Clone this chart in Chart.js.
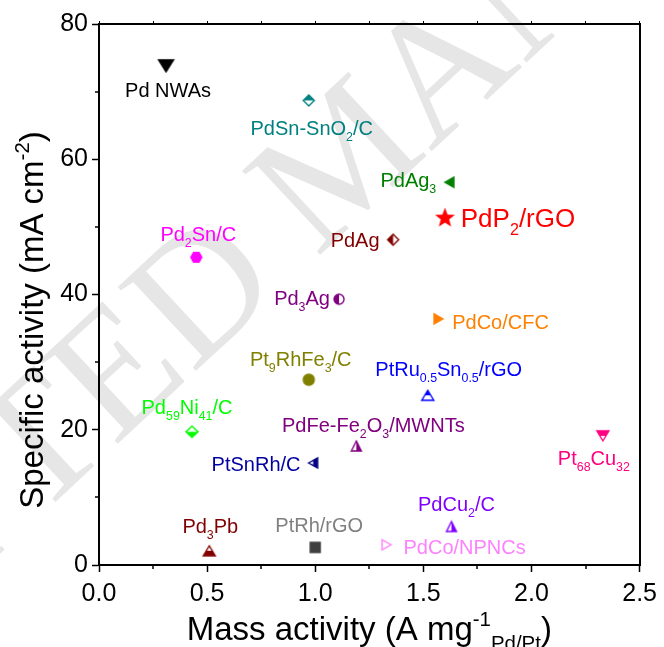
<!DOCTYPE html>
<html>
<head>
	<meta charset="UTF-8">
	<title>Specific activity vs. mass activity</title>
	<style>
		body { margin: 0; background: #fff; }
		canvas { display: block; }
	</style>
	<script src="https://cdn.jsdelivr.net/npm/chart.js@4.4.0/dist/chart.umd.min.js"></script>
</head>
<body>
	<canvas id="canvas" width="664" height="647"></canvas>
	<script>
		// data
		var catalysts = [
			'Pd NWAs', 'PdSn-SnO_{2}/C', 'PdAg_{3}', 'PdP_{2}/rGO', 'PdAg', 'Pd_{2}Sn/C',
			'Pd_{3}Ag', 'PdCo/CFC', 'Pt_{9}RhFe_{3}/C', 'PtRu_{0.5}Sn_{0.5}/rGO', 'Pd_{59}Ni_{41}/C',
			'PdFe-Fe_{2}O_{3}/MWNTs', 'PtSnRh/C', 'Pt_{68}Cu_{32}', 'Pd_{3}Pb', 'PtRh/rGO',
			'PdCu_{2}/C', 'PdCo/NPNCs'
		];
		var massActivity = [0.31, 0.97, 1.62, 1.60, 1.36, 0.45, 1.11, 1.57, 0.97, 1.52, 0.43, 1.19, 0.99, 2.33, 0.51, 1.00, 1.63, 1.33];
		var specificActivity = [73.8, 68.7, 56.6, 51.3, 48.1, 45.5, 39.3, 36.4, 27.4, 25.1, 19.7, 17.6, 15.1, 19.1, 2.1, 2.6, 5.7, 3.0];
		var xTicks = [0, 0.5, 1.0, 1.5, 2.0, 2.5];
		var yTicks = [0, 20, 40, 60, 80];

		// styles
		var markerShapes = ['triDown', 'diamond', 'triLeft', 'star', 'diamond', 'hexagon', 'circle', 'triRight', 'circle',
			'triUp', 'diamond', 'triUp', 'triLeft', 'triDown', 'triUp', 'square', 'triUp', 'triRight'];
		var markerFills = ['full', 'top', 'full', 'full', 'left', 'full', 'left', 'full', 'full',
			'top', 'bottom', 'right', 'right', 'top', 'bottom', 'full', 'right', 'none'];
		var markerSizes = [[15, 12], [11, 11], [9, 10], [21, 20], [11, 11], [11, 11], [10, 10], [9, 10], [11, 11],
			[12, 10], [12, 11], [10, 10], [9, 10], [12, 10], [12, 10], [10, 10], [10, 10], [9, 10]];
		var markerColors = ['#000000', '#008080', '#008000', '#FF0000', '#800000', '#FF00FF', '#800080', '#FF8000', '#808000',
			'#0000FF', '#00FF00', '#800080', '#000080', '#FF0080', '#800000', '#404040', '#8000FF', '#FF80FF'];
		var labelColors = ['#000000', '#008080', '#008000', '#FF0000', '#800000', '#FF00FF', '#800080', '#FF8000', '#808000',
			'#0000FF', '#00FF00', '#800080', '#0000A0', '#FF0080', '#800000', '#808080', '#8000FF', '#FF80FF'];
		var labelOffsets = [[2, 24], [3, 27], [-41, -2], [73, 0], [-38, 0], [2, -24], [-37, -1], [62, 3], [-8, -21],
			[21, -26], [-5, -25], [17, -21], [-57, 1], [-9, 22], [1, -25], [4, -23], [5, -23], [78, 2]];
		var labelSizes = [20, 20, 20, 26, 20, 20, 20, 20, 20, 20, 20, 20, 20, 20, 20, 20, 20, 20];

		var FONT = '"Liberation Sans", Arial, sans-serif';

		function shapePath(ctx, shape, a, b) {
			ctx.beginPath();
			if (shape === 'triUp') { ctx.moveTo(0, -b); ctx.lineTo(a, b); ctx.lineTo(-a, b); }
			else if (shape === 'triDown') { ctx.moveTo(0, b); ctx.lineTo(a, -b); ctx.lineTo(-a, -b); }
			else if (shape === 'triLeft') { ctx.moveTo(-a, 0); ctx.lineTo(a, -b); ctx.lineTo(a, b); }
			else if (shape === 'triRight') { ctx.moveTo(a, 0); ctx.lineTo(-a, -b); ctx.lineTo(-a, b); }
			else if (shape === 'diamond') { ctx.moveTo(0, -b); ctx.lineTo(a, 0); ctx.lineTo(0, b); ctx.lineTo(-a, 0); }
			else if (shape === 'square') { ctx.rect(-a, -b, 2 * a, 2 * b); }
			else if (shape === 'circle') { ctx.arc(0, 0, a, 0, Math.PI * 2); }
			else if (shape === 'hexagon') {
				for (var i = 0; i < 6; i++) {
					var t = Math.PI / 3 * i;
					ctx[i ? 'lineTo' : 'moveTo'](a * Math.cos(t), a * Math.sin(t));
				}
			}
			else if (shape === 'star') {
				for (var j = 0; j < 10; j++) {
					var r = j % 2 ? a * 0.42 : a, ang = -Math.PI / 2 + j * Math.PI / 5;
					ctx[j ? 'lineTo' : 'moveTo'](r * Math.cos(ang), r * Math.sin(ang));
				}
			}
			ctx.closePath();
		}

		function makeMarker(shape, fill, color, size) {
			var pad = 2, c = document.createElement('canvas');
			var a = size[0] / 2, b = size[1] / 2;
			c.width = size[0] + pad * 2;
			c.height = size[1] + pad * 2;
			var ctx = c.getContext('2d');
			ctx.translate(c.width / 2, c.height / 2);
			ctx.lineWidth = 1.4;
			ctx.strokeStyle = color;
			if (fill !== 'full') { shapePath(ctx, shape, a, b); ctx.fillStyle = '#fff'; ctx.fill(); }
			if (fill !== 'none') {
				ctx.save();
				ctx.beginPath();
				if (fill === 'top') ctx.rect(-a - 2, -b - 2, 2 * a + 4, b + 2);
				else if (fill === 'bottom') ctx.rect(-a - 2, 0, 2 * a + 4, b + 2);
				else if (fill === 'left') ctx.rect(-a - 2, -b - 2, a + 2, 2 * b + 4);
				else if (fill === 'right') ctx.rect(0, -b - 2, a + 2, 2 * b + 4);
				else ctx.rect(-a - 2, -b - 2, 2 * a + 4, 2 * b + 4);
				ctx.clip();
				shapePath(ctx, shape, a, b);
				ctx.fillStyle = color;
				ctx.fill();
				ctx.restore();
			}
			if (fill !== 'full' || shape !== 'star') { shapePath(ctx, shape, a, b); ctx.stroke(); }
			return c;
		}

		// rich text: _{..} subscript, ^{..} superscript
		function parseRich(str) {
			var parts = [], re = /([_^])\{([^}]*)\}/g, last = 0, m;
			while ((m = re.exec(str))) {
				if (m.index > last) parts.push({ t: str.slice(last, m.index), k: '' });
				parts.push({ t: m[2], k: m[1] });
				last = re.lastIndex;
			}
			if (last < str.length) parts.push({ t: str.slice(last), k: '' });
			return parts;
		}
		function partSize(p, size) { return p.k ? size * 0.62 : size; }
		function richWidth(ctx, parts, size) {
			var w = 0;
			parts.forEach(function(p) {
				ctx.font = partSize(p, size) + 'px ' + FONT;
				w += ctx.measureText(p.t).width;
			});
			return w;
		}
		function drawRich(ctx, str, cx, baseline, size, color) {
			var parts = parseRich(str);
			var x = cx - richWidth(ctx, parts, size) / 2;
			ctx.fillStyle = color;
			ctx.textBaseline = 'alphabetic';
			ctx.textAlign = 'left';
			parts.forEach(function(p) {
				ctx.font = partSize(p, size) + 'px ' + FONT;
				var dy = p.k === '_' ? size * 0.3 : (p.k === '^' ? -size * 0.42 : 0);
				ctx.fillText(p.t, x, baseline + dy);
				x += ctx.measureText(p.t).width;
			});
		}

		var watermark = {
			id: 'watermark',
			beforeDraw: function(chart) {
				var ctx = chart.ctx, size = 175;
				ctx.save();
				ctx.font = size + 'px "Liberation Serif", "Times New Roman", serif';
				ctx.fillStyle = '#e6e6e6';
				ctx.translate(199, 289);
				ctx.rotate(-43 * Math.PI / 180);
				var pre = ctx.measureText('ACCEPTE').width, dW = ctx.measureText('D').width;
				ctx.textBaseline = 'alphabetic';
				ctx.fillText('ACCEPTED MANUSCRIPT', -pre - dW / 2, size * 0.33);
				ctx.restore();
			}
		};

		var minorTicks = {
			id: 'minorTicks',
			afterDraw: function(chart) {
				var ctx = chart.ctx, xs = chart.scales.x, ys = chart.scales.y, area = chart.chartArea;
				ctx.save();
				ctx.strokeStyle = '#000';
				ctx.lineWidth = 1.5;
				ctx.beginPath();
				for (var i = 0; i < xTicks.length - 1; i++) {
					var px = Math.round(xs.getPixelForValue((xTicks[i] + xTicks[i + 1]) / 2));
					ctx.moveTo(px, area.bottom);
					ctx.lineTo(px, area.bottom + 4);
				}
				for (var j = 0; j < yTicks.length - 1; j++) {
					var py = Math.round(ys.getPixelForValue((yTicks[j] + yTicks[j + 1]) / 2));
					ctx.moveTo(area.left, py);
					ctx.lineTo(area.left - 4, py);
				}
				ctx.stroke();
				ctx.restore();
			}
		};

		var pointLabels = {
			id: 'pointLabels',
			afterDatasetsDraw: function(chart) {
				var ctx = chart.ctx, meta = chart.getDatasetMeta(0);
				ctx.save();
				meta.data.forEach(function(pt, i) {
					var size = labelSizes[i];
					drawRich(ctx, catalysts[i], pt.x + labelOffsets[i][0], pt.y + labelOffsets[i][1] + size * 0.36, size, labelColors[i]);
				});
				ctx.restore();
			}
		};

		var axisTitles = {
			id: 'axisTitles',
			afterDraw: function(chart) {
				var ctx = chart.ctx, area = chart.chartArea;
				ctx.save();
				drawRich(ctx, 'Mass activity (A mg^{-1}_{Pd/Pt})', (area.left + area.right) / 2, 640, 33, '#000');
				ctx.translate(43, 320);
				ctx.rotate(-Math.PI / 2);
				drawRich(ctx, 'Specific activity (mA cm^{-2})', 0, 0, 33, '#000');
				ctx.restore();
			}
		};

		var points = massActivity.map(function(x, i) { return { x: x, y: specificActivity[i] }; });
		var markers = markerShapes.map(function(s, i) { return makeMarker(s, markerFills[i], markerColors[i], markerSizes[i]); });

		var tickFont = { family: FONT, size: 25 };
		var axisBorder = { color: '#000', width: 2 };

		new Chart(document.getElementById('canvas').getContext('2d'), {
			type: 'scatter',
			data: {
				datasets: [{ data: points, pointStyle: markers, pointRadius: 6 }]
			},
			options: {
				responsive: false,
				animation: false,
				events: [],
				layout: { padding: 0 },
				plugins: { legend: { display: false }, tooltip: { enabled: false } },
				scales: {
					x: {
						type: 'linear', position: 'bottom', min: xTicks[0], max: xTicks[xTicks.length - 1],
						ticks: { stepSize: 0.5, padding: 7, color: '#000', font: tickFont, maxRotation: 0, autoSkip: false,
							callback: function(v) { return v.toFixed(1); } },
						grid: { drawOnChartArea: false, tickLength: 7, tickWidth: 1.5, tickColor: '#000' },
						border: axisBorder,
						afterFit: function(s) { s.height = 82; }
					},
					xTop: {
						type: 'linear', position: 'top', min: xTicks[0], max: xTicks[xTicks.length - 1],
						ticks: { display: false, stepSize: 0.25 },
						grid: { drawOnChartArea: false, tickLength: 3, tickWidth: 1, tickColor: '#000' },
						border: axisBorder,
						afterFit: function(s) { s.height = 24; }
					},
					y: {
						type: 'linear', position: 'left', min: yTicks[0], max: yTicks[yTicks.length - 1],
						ticks: { stepSize: 20, padding: 4, color: '#000', font: tickFont },
						grid: { drawOnChartArea: false, tickLength: 7, tickWidth: 1.5, tickColor: '#000' },
						border: axisBorder,
						afterFit: function(s) { s.width = 99; }
					},
					yRight: {
						type: 'linear', position: 'right', min: yTicks[0], max: yTicks[yTicks.length - 1],
						ticks: { display: false },
						grid: { display: false },
						border: axisBorder,
						afterFit: function(s) { s.width = 21; }
					}
				}
			},
			plugins: [watermark, minorTicks, pointLabels, axisTitles]
		});
	</script>
</body>
</html>
